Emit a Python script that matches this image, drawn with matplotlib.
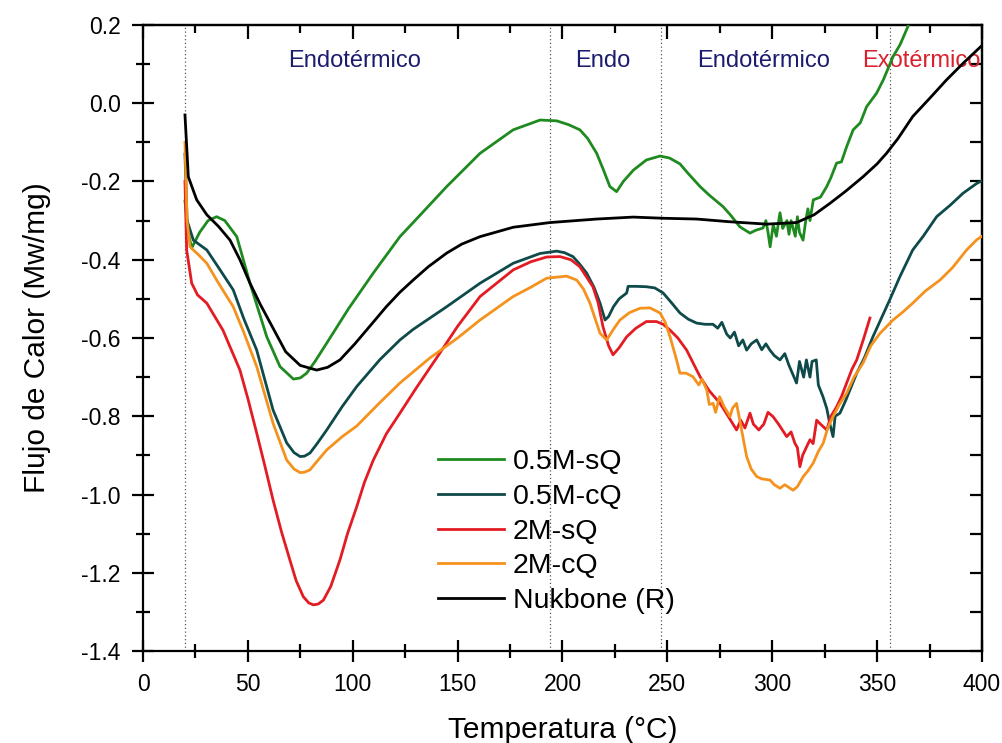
import matplotlib
matplotlib.use('Agg')
import matplotlib.pyplot as plt
from matplotlib.ticker import MultipleLocator

plt.rcParams['font.family'] = ['Liberation Sans', 'DejaVu Sans']

# ─────────────────────────────────────────────────────────────
# Data (temperature in °C, heat flow)
# ─────────────────────────────────────────────────────────────
green_x = [20, 21.5, 23.2, 27, 31, 35.1, 39, 44.7, 51, 59, 65.3, 71.7, 75, 78, 82, 87.6, 98,
           109.8, 122.5, 128.8, 144.8, 160.7, 176.5, 189.3, 197.2, 203, 208.3, 212, 216.3,
           219.5, 222.6, 225.8, 229, 233.8, 240, 246.5, 251, 256, 260, 265.6, 270, 276.5,
           280, 284.6, 289.4, 292, 295.6, 297, 298, 299, 300.5, 302, 303.7, 305, 307, 308,
           309, 311, 312, 313, 314.7, 316, 317, 318, 319.6, 323, 326, 328, 330.7, 333, 335.5,
           338.6, 342, 345, 349.8, 353, 357.6, 361, 364.7, 367]
green_y = [-0.25, -0.33, -0.37, -0.33, -0.30, -0.29, -0.30, -0.341, -0.46, -0.597, -0.673,
           -0.705, -0.702, -0.69, -0.66, -0.613, -0.525, -0.434, -0.341, -0.305, -0.213,
           -0.128, -0.068, -0.043, -0.045, -0.055, -0.068, -0.09, -0.128, -0.17, -0.213,
           -0.226, -0.20, -0.171, -0.145, -0.135, -0.14, -0.155, -0.18, -0.213, -0.235,
           -0.264, -0.285, -0.316, -0.332, -0.325, -0.319, -0.30, -0.33, -0.367, -0.31,
           -0.34, -0.28, -0.32, -0.30, -0.335, -0.30, -0.34, -0.29, -0.33, -0.35, -0.30,
           -0.27, -0.30, -0.247, -0.24, -0.213, -0.19, -0.153, -0.15, -0.111, -0.068, -0.05,
           -0.009, 0.026, 0.06, 0.119, 0.15, 0.196, 0.23]

teal_x = [20, 21, 24, 30.4, 36, 43, 48, 54.2, 62, 68.5, 72, 74.9, 77, 79.6, 83, 87.6, 95,
          101.9, 113, 122.5, 128.8, 144.8, 160.7, 176.5, 189.3, 197.2, 201, 205, 208, 211.5,
          215, 217.9, 220.3, 222, 224.3, 227, 230.6, 231.3, 235, 240, 244, 248, 252, 256, 260,
          264, 268, 271.8, 274, 276, 278.3, 280, 282, 284, 286, 287.8, 290, 292.6, 295, 297,
          298.9, 301, 303.7, 306, 308, 311.6, 313, 315, 316.3, 318, 319, 321, 322, 324.2, 326,
          327.5, 329, 330, 332.3, 335, 340.3, 344, 348, 352, 356, 360.9, 367, 372, 378.4, 385,
          391, 397.5, 400]
teal_y = [-0.13, -0.30, -0.35, -0.375, -0.42, -0.477, -0.55, -0.631, -0.784, -0.868, -0.893,
          -0.903, -0.902, -0.894, -0.87, -0.835, -0.775, -0.724, -0.655, -0.605, -0.578,
          -0.52, -0.46, -0.409, -0.384, -0.378, -0.382, -0.392, -0.41, -0.434, -0.47, -0.511,
          -0.554, -0.545, -0.52, -0.50, -0.485, -0.468, -0.468, -0.469, -0.472, -0.485, -0.51,
          -0.536, -0.552, -0.562, -0.565, -0.565, -0.575, -0.56, -0.59, -0.60, -0.585, -0.62,
          -0.605, -0.631, -0.615, -0.605, -0.63, -0.615, -0.631, -0.645, -0.656, -0.64, -0.67,
          -0.715, -0.66, -0.70, -0.656, -0.70, -0.66, -0.656, -0.72, -0.75, -0.78, -0.82,
          -0.852, -0.80, -0.792, -0.76, -0.69, -0.65, -0.597, -0.55, -0.503, -0.443, -0.375,
          -0.34, -0.29, -0.26, -0.23, -0.205, -0.198]

red_x = [20, 20.8, 23.2, 26, 30.4, 38.1, 46.2, 50, 54.2, 58, 62, 66, 70, 73, 76.4, 79, 81.2,
         83.5, 86, 89.5, 93.9, 97.5, 101.9, 105.5, 109.8, 116, 122.5, 130, 141.6, 150, 160.7,
         176.5, 185, 192.5, 198.8, 204, 208.3, 214.5, 217, 219.3, 222, 224.1, 227, 230.6, 235,
         240, 244.8, 248, 251.3, 255, 259.2, 265.6, 270, 275, 279, 283, 285, 287, 289.4, 291,
         293.6, 296, 298, 300.4, 303, 306.9, 309, 310.8, 312, 313.2, 314.5, 316.4, 318, 319.5,
         321.2, 323, 326, 328, 330.7, 333, 335.5, 338, 340.3, 343.4, 346.6]
red_y = [-0.20, -0.375, -0.46, -0.49, -0.511, -0.58, -0.682, -0.755, -0.843, -0.925, -1.014,
         -1.095, -1.167, -1.22, -1.261, -1.277, -1.282, -1.28, -1.27, -1.235, -1.167, -1.10,
         -1.031, -0.97, -0.912, -0.845, -0.792, -0.73, -0.638, -0.57, -0.494, -0.426, -0.405,
         -0.393, -0.392, -0.40, -0.418, -0.469, -0.51, -0.571, -0.62, -0.643, -0.625, -0.597,
         -0.575, -0.558, -0.558, -0.565, -0.58, -0.60, -0.631, -0.699, -0.735, -0.766, -0.80,
         -0.835, -0.81, -0.83, -0.792, -0.82, -0.835, -0.82, -0.79, -0.801, -0.82, -0.852,
         -0.84, -0.869, -0.88, -0.929, -0.90, -0.878, -0.86, -0.87, -0.81, -0.82, -0.835,
         -0.80, -0.776, -0.75, -0.715, -0.68, -0.656, -0.605, -0.549]

orange_x = [20, 21, 22.4, 26, 30.4, 36, 43, 48, 54.2, 62, 68.5, 72, 74.9, 77, 79.6, 83, 87.6,
            95, 101.9, 112, 122.5, 136.8, 150, 160.7, 176.5, 185, 192.5, 202, 206.8, 210,
            213.1, 217.9, 221.1, 224, 227.4, 232, 237, 241.7, 246.5, 249, 251.3, 254.4, 256,
            259, 262.2, 265, 266.5, 268.8, 270, 271.8, 273, 274.9, 277, 279.9, 281, 283, 285.4,
            287.8, 290, 292.6, 295, 298.9, 301, 303.7, 306, 309.9, 312, 314.8, 317, 319.5,
            322, 324.3, 326.5, 329, 332, 335.5, 339, 343.3, 347, 351.4, 357.6, 362, 367, 373,
            380, 386, 392.7, 397.5, 400]
orange_y = [-0.10, -0.30, -0.367, -0.385, -0.409, -0.46, -0.52, -0.585, -0.673, -0.818,
            -0.912, -0.935, -0.944, -0.943, -0.937, -0.915, -0.886, -0.852, -0.825, -0.77,
            -0.715, -0.651, -0.60, -0.554, -0.494, -0.47, -0.447, -0.442, -0.452, -0.475,
            -0.511, -0.588, -0.605, -0.58, -0.554, -0.535, -0.524, -0.523, -0.536, -0.56,
            -0.597, -0.656, -0.69, -0.69, -0.699, -0.72, -0.705, -0.733, -0.77, -0.767, -0.79,
            -0.75, -0.775, -0.801, -0.78, -0.767, -0.835, -0.903, -0.935, -0.954, -0.96,
            -0.963, -0.975, -0.984, -0.975, -0.989, -0.98, -0.954, -0.94, -0.92, -0.89,
            -0.869, -0.83, -0.801, -0.77, -0.741, -0.70, -0.664, -0.62, -0.588, -0.554,
            -0.535, -0.511, -0.48, -0.452, -0.42, -0.375, -0.349, -0.34]

black_x = [20, 21.6, 25.6, 30.4, 36, 41.5, 46.2, 51, 56, 62, 68, 74.9, 82.8, 88, 93.9, 101,
           109.7, 116, 122.5, 128.8, 136, 144.8, 152, 160.7, 176.5, 194, 216.3, 233.7, 248,
           264, 279.9, 297.3, 311.6, 320, 327.5, 335, 343.3, 350, 354.5, 360, 367, 375, 383,
           391, 399.5]
black_y = [-0.03, -0.188, -0.247, -0.285, -0.315, -0.35, -0.40, -0.46, -0.515, -0.575,
           -0.635, -0.67, -0.682, -0.675, -0.656, -0.615, -0.56, -0.52, -0.483, -0.452,
           -0.418, -0.383, -0.36, -0.341, -0.317, -0.305, -0.296, -0.291, -0.294, -0.296,
           -0.303, -0.309, -0.305, -0.285, -0.256, -0.225, -0.188, -0.155, -0.128, -0.09,
           -0.034, 0.012, 0.059, 0.102, 0.145]

series = [
    ("0.5M-sQ", green_x, green_y, '#1f8a1f'),
    ("0.5M-cQ", teal_x, teal_y, '#0f4a4a'),
    ("2M-sQ", red_x, red_y, '#e31b23'),
    ("2M-cQ", orange_x, orange_y, '#f5921e'),
    ("Nukbone (R)", black_x, black_y, '#000000'),
]

region_lines = [20, 194, 247, 356]
region_labels = [(101, "Endotérmico", '#1c1c6e'),
                 (219, "Endo", '#1c1c6e'),
                 (296, "Endotérmico", '#1c1c6e'),
                 (371, "Exotérmico", '#d9202c')]

# ─────────────────────────────────────────────────────────────
# Figure
# ─────────────────────────────────────────────────────────────
fig = plt.figure(figsize=(10.03, 7.43), dpi=100)
ax = fig.add_axes([0.1426, 0.1238, 0.8364, 0.8426])

for xv in region_lines:
    ax.axvline(xv, color='#555555', linestyle=(0, (1, 2)), linewidth=0.9, zorder=1)

for label, xs, ys, c in series:
    ax.plot(xs, ys, color=c, linewidth=2, label=label, zorder=3)

for xv, txt, c in region_labels:
    ax.text(xv, 0.108, txt, color=c, fontsize=17, ha='center', va='center', zorder=2)

ax.set_xlim(0, 400)
ax.set_ylim(-1.4, 0.2)
ax.xaxis.set_major_locator(MultipleLocator(50))
ax.xaxis.set_minor_locator(MultipleLocator(25))
ax.yaxis.set_major_locator(MultipleLocator(0.2))
ax.yaxis.set_minor_locator(MultipleLocator(0.1))
ax.yaxis.set_major_formatter(plt.FuncFormatter(lambda v, p: f'{v:.1f}'))

for sp in ax.spines.values():
    sp.set_linewidth(1.6)

ax.tick_params(which='major', direction='inout', length=16, width=1.6, labelsize=16.5,
               top=False, right=False, pad=8)
ax.tick_params(which='minor', direction='inout', length=10, width=1.6, top=False, right=False)

# top / right ticks point inward only
topx = ax.secondary_xaxis('top')
topx.xaxis.set_major_locator(MultipleLocator(50))
topx.xaxis.set_minor_locator(MultipleLocator(25))
topx.tick_params(which='major', direction='in', length=10, width=1.6, labeltop=False)
topx.tick_params(which='minor', direction='in', length=6, width=1.6)
topx.spines['top'].set_linewidth(1.6)
righty = ax.secondary_yaxis('right')
righty.yaxis.set_major_locator(MultipleLocator(0.2))
righty.yaxis.set_minor_locator(MultipleLocator(0.1))
righty.tick_params(which='major', direction='in', length=9, width=1.6, labelright=False)
righty.tick_params(which='minor', direction='in', length=9, width=1.6)
righty.spines['right'].set_linewidth(1.6)

ax.set_xlabel('Temperatura (°C)', fontsize=21.5, labelpad=14)
ax.set_ylabel('Flujo de Calor (Mw/mg)', fontsize=21.5, labelpad=22)

ax.legend(loc='upper left', bbox_to_anchor=(0.3375, 0.341), frameon=False, fontsize=20.5,
          handlelength=2.32, handletextpad=0.32, labelspacing=0.31, borderaxespad=0)

fig.savefig('out.png', dpi=100)
